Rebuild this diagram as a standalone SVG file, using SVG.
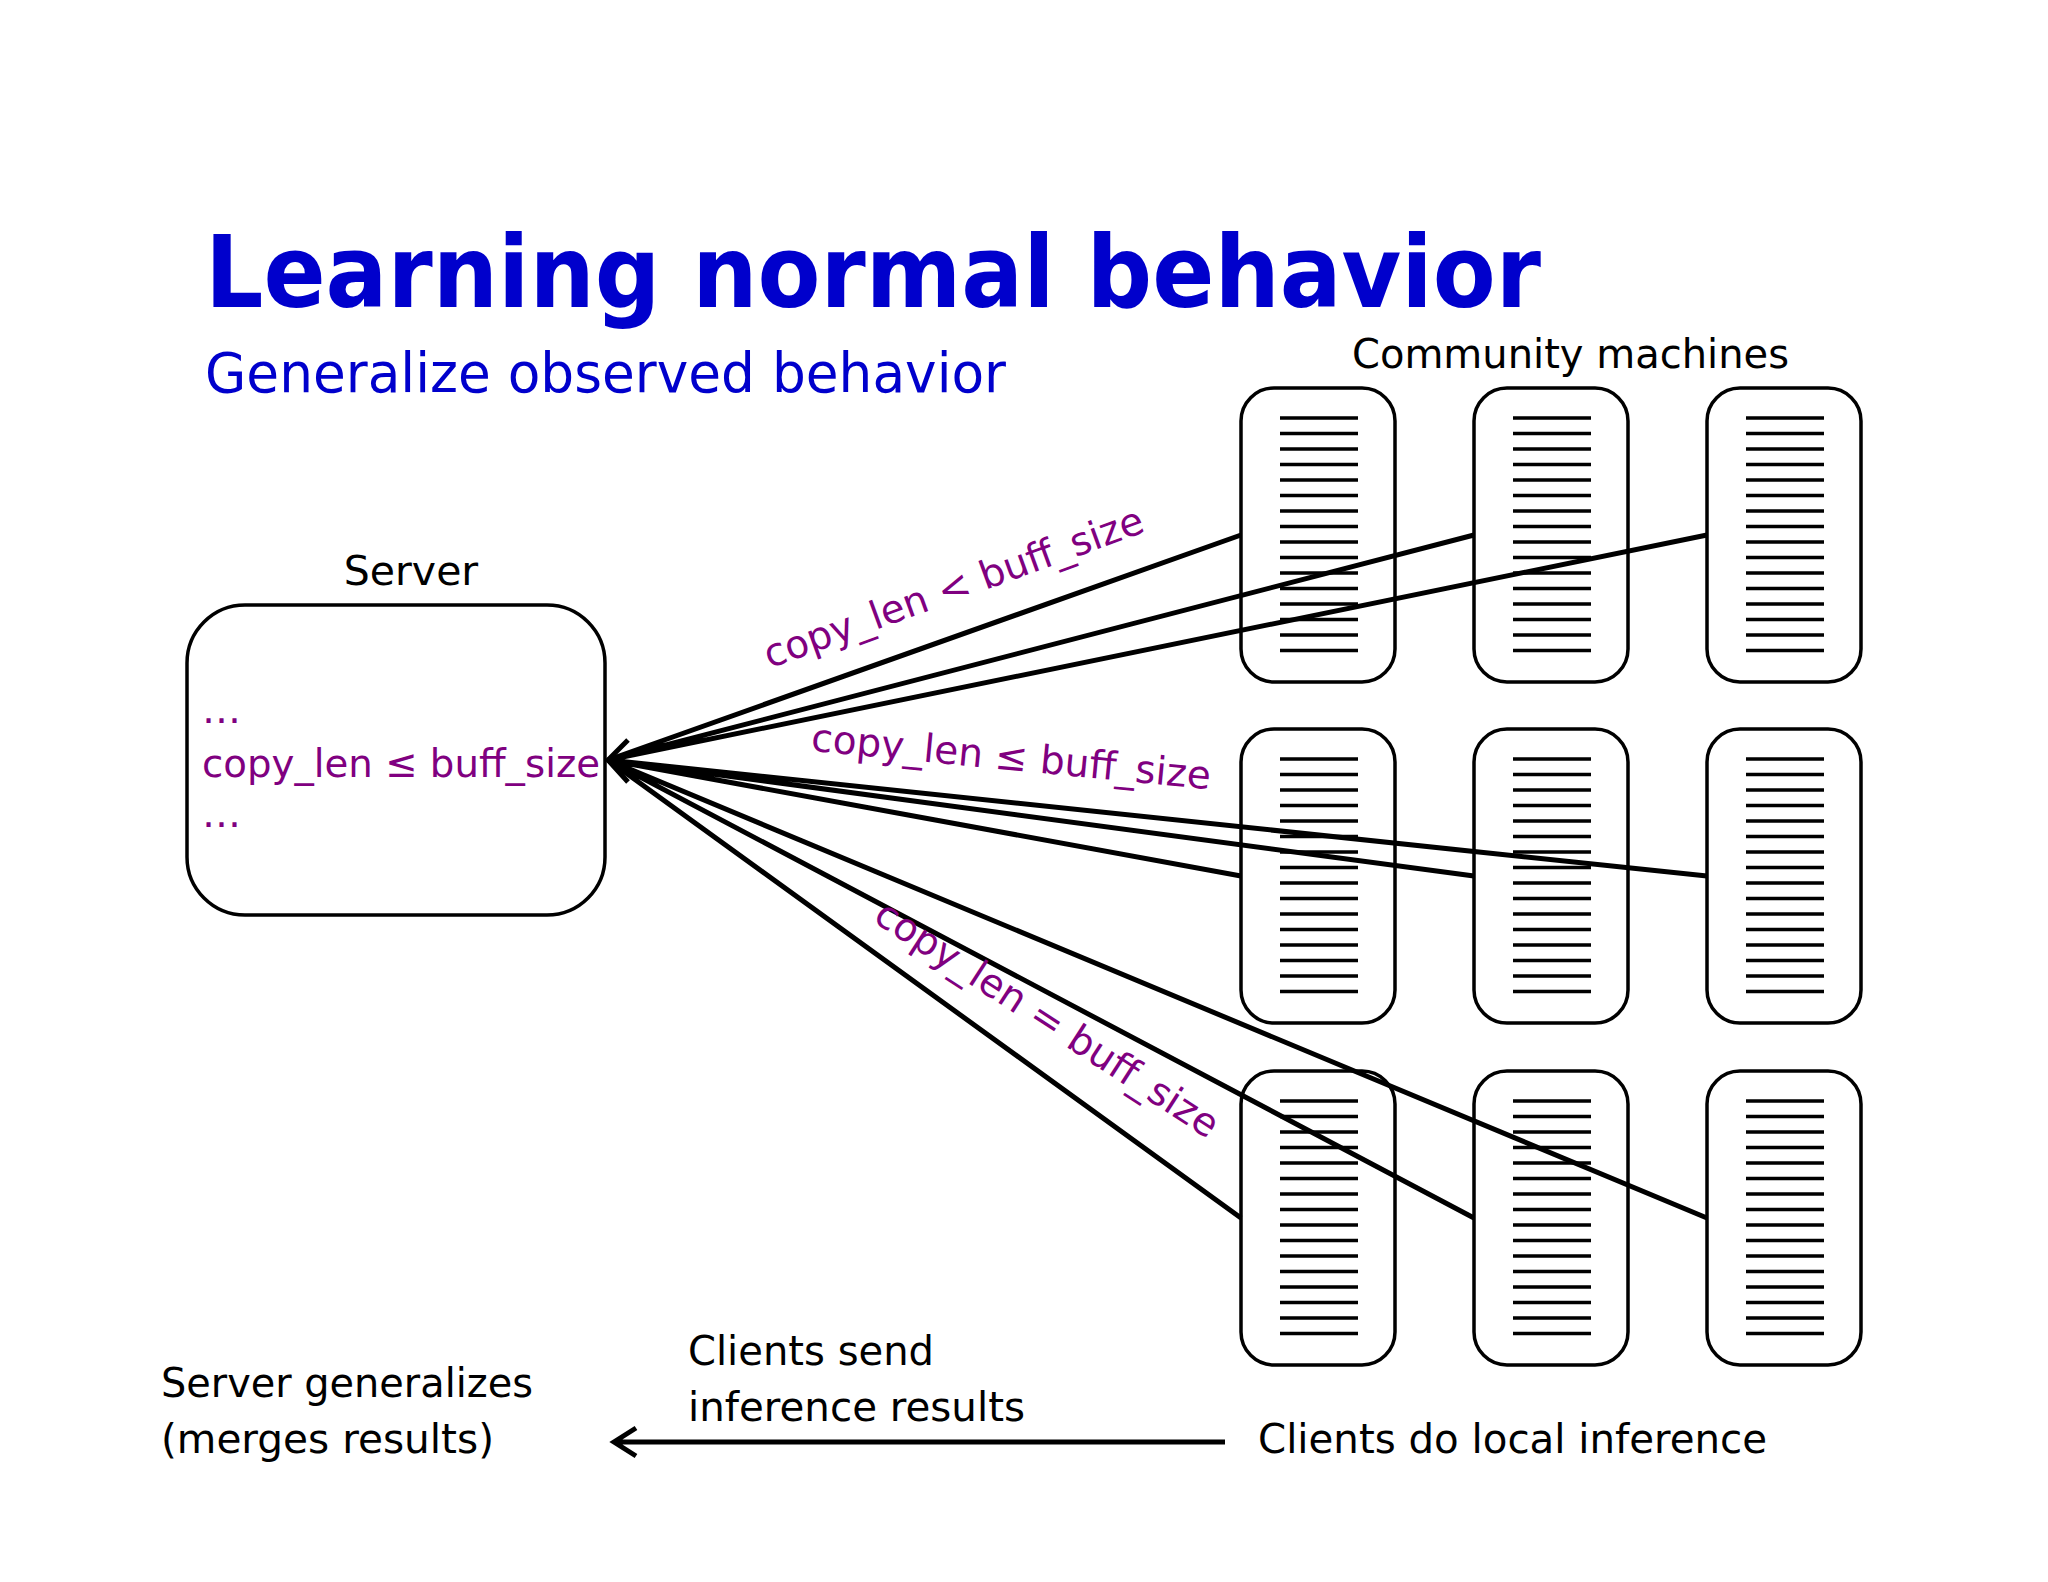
<svg xmlns="http://www.w3.org/2000/svg" width="2048" height="1582" viewBox="0 0 2048 1582">
<defs>
<style>
text{font-family:"DejaVu Sans","Liberation Sans",sans-serif}
.t{fill:#000;font-size:41px}
.p{fill:#800080;font-size:39px}
.box{fill:#fff;stroke:#000;stroke-width:3.5}
.ln{stroke:#000;stroke-width:3.5}
.c{stroke:#000;stroke-width:5;fill:none}
</style>
<g id="slots">
<path class="ln" d="M39 30h78M39 45.5h78M39 61h78M39 76.5h78M39 92h78M39 107.5h78M39 123h78M39 138.5h78M39 154h78M39 169.5h78M39 185h78M39 200.5h78M39 216h78M39 231.5h78M39 247h78M39 262.5h78"/>
</g>
</defs>
<rect width="2048" height="1582" fill="#fff"/>
<text x="205" y="307" font-size="100" font-weight="bold" fill="#0000CC" textLength="1336" lengthAdjust="spacingAndGlyphs">Learning normal behavior</text>
<text x="205" y="392" font-size="56" fill="#0000CC" textLength="801" lengthAdjust="spacingAndGlyphs">Generalize observed behavior</text>
<text class="t" x="1352" y="368" textLength="437" lengthAdjust="spacingAndGlyphs">Community machines</text>
<g id="m11"><rect class="box" x="1241" y="388" width="154" height="294" rx="33"/><use href="#slots" x="1241" y="388"/></g>
<g id="m12"><rect class="box" x="1474" y="388" width="154" height="294" rx="33"/><use href="#slots" x="1474" y="388"/></g>
<g id="m13"><rect class="box" x="1707" y="388" width="154" height="294" rx="33"/><use href="#slots" x="1707" y="388"/></g>
<g id="m21"><rect class="box" x="1241" y="729" width="154" height="294" rx="33"/><use href="#slots" x="1241" y="729"/></g>
<g id="m22"><rect class="box" x="1474" y="729" width="154" height="294" rx="33"/><use href="#slots" x="1474" y="729"/></g>
<g id="m23"><rect class="box" x="1707" y="729" width="154" height="294" rx="33"/><use href="#slots" x="1707" y="729"/></g>
<g id="m31"><rect class="box" x="1241" y="1071" width="154" height="294" rx="33"/><use href="#slots" x="1241" y="1071"/></g>
<g id="m32"><rect class="box" x="1474" y="1071" width="154" height="294" rx="33"/><use href="#slots" x="1474" y="1071"/></g>
<g id="m33"><rect class="box" x="1707" y="1071" width="154" height="294" rx="33"/><use href="#slots" x="1707" y="1071"/></g>
<g id="server">
<text class="t" x="411" y="585" text-anchor="middle">Server</text>
<rect class="box" x="187" y="605" width="418" height="310" rx="58"/>
<text class="p" x="202" y="723">…</text>
<text class="p" x="202" y="777" textLength="398" lengthAdjust="spacingAndGlyphs">copy_len ≤ buff_size</text>
<text class="p" x="202" y="827">…</text>
</g>
<g id="connectors">
<path class="c" d="M1241 535L608 760M1474 535L608 760M1707 535L608 760M1241 876L608 760M1474 876L608 760M1707 876L608 760M1241 1218L608 760M1474 1218L608 760M1707 1218L608 760"/>
<path class="c" d="M628 740L608 760L628 782"/>
<path class="c" d="M1225 1442H614M636 1428L614 1442L636 1456"/>
</g>
<text class="p" transform="translate(958,600) rotate(-20)" text-anchor="middle">copy_len &lt; buff_size</text>
<text class="p" transform="translate(1010,770) rotate(5.5)" text-anchor="middle">copy_len ≤ buff_size</text>
<text class="p" transform="translate(1040,1030) rotate(33)" text-anchor="middle">copy_len = buff_size</text>
<text class="t" x="161" y="1397" textLength="372" lengthAdjust="spacingAndGlyphs">Server generalizes</text>
<text class="t" x="161" y="1453" textLength="333" lengthAdjust="spacingAndGlyphs">(merges results)</text>
<text class="t" x="688" y="1365" textLength="246" lengthAdjust="spacingAndGlyphs">Clients send</text>
<text class="t" x="688" y="1421" textLength="337" lengthAdjust="spacingAndGlyphs">inference results</text>
<text class="t" x="1258" y="1453" textLength="509" lengthAdjust="spacingAndGlyphs">Clients do local inference</text>
</svg>
